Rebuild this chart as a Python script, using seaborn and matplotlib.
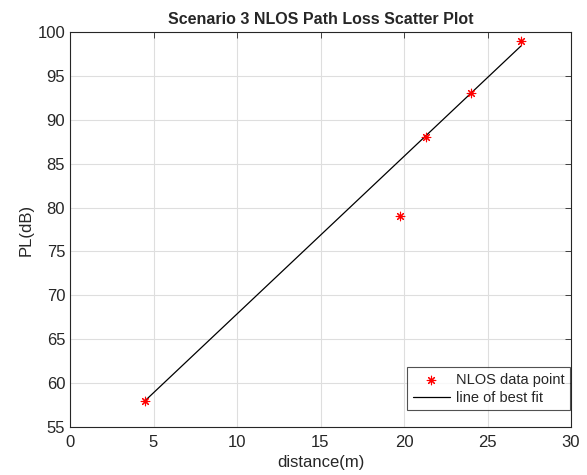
import numpy as np
import pandas as pd
import matplotlib
matplotlib.use("Agg")
import matplotlib.pyplot as plt
import seaborn as sns

# data
distance_m = [4.5, 19.75, 21.3, 24.0, 27.0]
path_loss_db = [58.0, 79.0, 88.0, 93.0, 99.0]

# endpoints of the drawn line of best fit
fit_distance = [4.5, 27.0]
fit_pl = [58.0, 98.4]

x_ticks = [0, 5, 10, 15, 20, 25, 30]
y_ticks = [55, 60, 65, 70, 75, 80, 85, 90, 95, 100]

sns.set_style("white")
plt.rcParams['font.family'] = ['Liberation Sans', 'DejaVu Sans']

pts = pd.DataFrame({'d': distance_m, 'pl': path_loss_db})
fit = pd.DataFrame({'d': fit_distance, 'pl': fit_pl})

fig = plt.figure(figsize=(5.87, 4.75), dpi=100)
ax = fig.add_axes([70 / 587, 1 - 427 / 475, 501 / 587, 395 / 475])

sns.scatterplot(data=pts, x='d', y='pl', ax=ax, marker=(8, 2, 0), s=38,
                color='red', linewidth=0.8, edgecolor='red', label='NLOS data point', zorder=3)
sns.lineplot(data=fit, x='d', y='pl', ax=ax, color='black', linewidth=0.9,
             label='line of best fit', zorder=2)

ax.set_xlim(0, 30)
ax.set_ylim(55, 100)
ax.set_xticks(x_ticks)
ax.set_yticks(y_ticks)
ax.grid(True, color='#dedede', linewidth=0.8)
ax.tick_params(direction='in', top=True, right=True, labelsize=12, length=4,
               width=0.6, colors='#262626')
ax.tick_params(axis='x', pad=6)
for sp in ax.spines.values():
    sp.set_color('#262626')
    sp.set_linewidth(0.8)

ax.set_xlabel('distance(m)', fontsize=12, color='#262626', labelpad=3)
ax.set_ylabel('PL(dB)', fontsize=12, color='#262626', labelpad=3)
ax.set_title('Scenario 3 NLOS Path Loss Scatter Plot', fontsize=11.5, fontweight='bold', pad=6)

leg = ax.legend(loc='lower right', bbox_to_anchor=(0.998, 0.043), fontsize=10.5,
                frameon=True, fancybox=False, edgecolor='#262626', borderpad=0.35,
                handlelength=2.6, handletextpad=0.4, labelspacing=0.3, borderaxespad=0)
leg.get_frame().set_linewidth(0.8)

fig.savefig('out.png', dpi=100)
